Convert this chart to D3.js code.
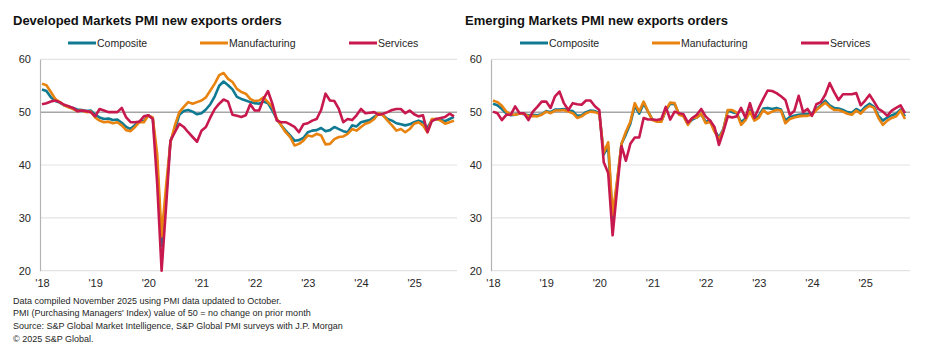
<!DOCTYPE html>
<html>
<head>
<meta charset="utf-8">
<script src="https://cdn.jsdelivr.net/npm/d3@7"></script>
<style>
  body { margin: 0; background: #fff; }
  svg { display: block; font-family: Arial, "Liberation Sans", sans-serif; }
</style>
</head>
<body>
<svg id="chart" width="928" height="354"></svg>
<script>
// monthly, Jan 2018 .. Oct 2025
let yearLabels = ["'18", "'19", "'20", "'21", "'22", "'23", "'24", "'25"];
let yTicks = [20, 30, 40, 50, 60];
let seriesNames = ["Composite", "Manufacturing", "Services"];

let dmComposite = [
  54.3, 54.0, 52.8, 52.1, 51.8, 51.3, 51.0, 50.8, 50.5, 50.4, 50.2, 50.3,
  49.5, 49.0, 48.7, 48.8, 48.5, 48.6, 48.0, 47.2, 46.8, 47.6, 48.2, 48.3,
  49.4, 48.8, 40.0, 24.7, 34.0, 44.5, 46.8, 49.5, 50.2, 50.4, 50.1, 49.6,
  49.8, 50.5, 51.5, 53.0, 55.0, 55.8, 55.1, 54.3, 52.9, 52.5, 52.2, 51.9,
  51.7, 51.6, 52.0, 51.7, 50.3, 48.7, 47.5, 46.5, 45.6, 44.6, 44.7, 45.1,
  46.2, 46.5, 46.6, 47.0, 46.4, 46.6, 47.2, 46.8, 46.4, 46.2, 47.5, 47.3,
  48.1, 48.3, 48.5, 49.1, 49.7, 49.4, 48.7, 48.4, 47.9, 47.7, 47.5, 47.7,
  48.1, 48.4, 48.1, 47.0, 48.5, 48.7, 48.5, 48.3, 48.7, 49.1
];
let dmManufacturing = [
  55.4, 55.1, 53.8, 52.5, 51.9, 51.3, 50.9, 50.6, 50.2, 50.3, 50.0, 50.1,
  49.0, 48.4, 48.1, 48.2, 47.9, 48.1, 47.5, 46.6, 46.4, 47.2, 48.1, 48.1,
  49.4, 49.0, 42.0, 26.5, 36.0, 44.3, 47.5, 50.0, 51.0, 51.9, 51.6, 51.9,
  52.2, 52.8, 54.1, 55.4, 57.0, 57.4, 56.3, 55.7, 54.4, 53.8, 53.5, 52.5,
  52.1, 52.2, 52.8, 51.9, 51.0, 48.7, 47.5, 46.2, 45.3, 43.7, 44.0, 44.6,
  45.6, 45.4, 45.9, 45.6, 43.9, 44.0, 44.9, 45.3, 45.4, 45.9, 46.8, 46.5,
  47.2, 47.8, 48.1, 48.7, 49.8, 49.4, 48.4, 47.5, 46.5, 46.8, 46.2, 46.8,
  47.8, 48.1, 47.5, 46.2, 48.7, 48.7, 48.4, 47.8, 48.1, 48.4
];
let dmServices = [
  51.5, 51.7, 52.0, 52.2, 51.9, 51.4, 51.1, 50.8, 50.2, 50.3, 50.2, 50.0,
  49.2, 50.6, 50.3, 50.0, 50.0, 50.0, 50.8, 49.0, 48.1, 48.1, 48.2, 49.2,
  49.4, 48.7, 36.5, 20.0, 32.0, 44.6, 46.2, 47.8, 47.2, 46.2, 45.3, 44.4,
  46.5, 47.2, 49.0, 50.6, 51.6, 52.4, 52.0, 49.5, 49.3, 49.1, 49.4, 51.5,
  50.3, 50.3, 52.5, 54.0, 51.6, 48.4, 48.1, 48.1, 47.7, 47.2, 46.2, 47.7,
  47.9, 48.4, 48.7, 50.4, 53.5, 52.2, 52.1, 50.6, 48.1, 48.7, 48.5, 49.4,
  50.6, 49.8, 49.9, 50.0, 49.5, 49.7, 50.0, 50.4, 50.6, 50.6, 49.8, 50.3,
  49.6, 49.2, 49.4, 46.2, 48.3, 48.7, 48.9, 49.1, 49.7, 49.2
];

let emComposite = [
  51.6, 51.3, 50.6, 49.8, 49.4, 49.5, 49.8, 49.6, 49.4, 49.5, 49.4, 49.6,
  50.2, 50.0, 50.5, 50.5, 50.6, 50.3, 50.2, 49.3, 49.4, 50.0, 50.3, 50.2,
  49.8, 42.0, 43.5, 29.5, 36.5, 44.0, 45.8, 47.8, 51.2, 49.7, 51.6, 50.1,
  48.6, 48.3, 48.3, 50.3, 51.6, 51.5, 49.6, 49.3, 47.8, 48.6, 49.0, 49.6,
  48.2, 48.4, 46.6, 45.2, 46.8, 50.3, 50.0, 49.8, 48.1, 48.8, 50.4, 48.7,
  49.3, 50.7, 50.8, 50.6, 50.8, 50.5, 48.4, 49.1, 49.3, 49.5, 49.6, 49.6,
  49.7, 50.6, 51.3, 52.2, 51.3, 50.8, 50.7, 50.4, 50.0, 49.9, 50.6, 50.1,
  51.0, 51.6, 51.0, 49.3, 48.4, 49.0, 49.4, 49.7, 50.5, 49.2
];
let emManufacturing = [
  52.2, 51.9, 51.2, 50.1, 49.6, 49.5, 49.7, 49.7, 49.2, 49.3, 49.2, 49.5,
  50.1, 49.8, 50.3, 50.3, 50.4, 50.1, 49.8, 48.9, 49.2, 49.8, 50.1, 50.0,
  49.7, 42.3, 44.3, 30.5, 37.0, 44.0, 46.3, 48.2, 51.7, 50.1, 52.0, 50.1,
  48.5, 48.2, 48.2, 50.4, 51.8, 51.7, 49.5, 49.2, 47.6, 48.9, 49.0, 49.7,
  47.9, 48.2, 46.3, 44.9, 46.6, 50.4, 50.4, 49.9, 47.6, 48.5, 50.1, 48.4,
  48.9, 50.4, 49.7, 50.1, 50.4, 50.3, 47.9, 48.7, 49.0, 49.2, 49.3, 49.3,
  49.5, 50.4, 51.1, 51.8, 51.0, 50.4, 50.4, 50.1, 49.7, 49.5, 50.3, 49.7,
  50.6, 51.2, 50.8, 48.9, 47.6, 48.4, 48.9, 49.2, 50.3, 48.7
];
let emServices = [
  50.1, 49.8, 48.5, 49.5, 49.5, 51.1, 49.8, 49.8, 48.5, 50.1, 51.0, 52.0,
  52.0, 50.8, 53.0, 53.9, 51.7, 50.4, 51.7, 51.5, 51.4, 52.2, 52.2, 51.1,
  50.4, 40.5, 38.5, 26.7, 35.3, 43.6, 40.8, 44.0, 45.2, 45.2, 48.9, 48.6,
  48.6, 48.5, 48.7, 51.0, 48.6, 50.1, 49.8, 49.6, 48.0, 48.9, 49.5, 50.6,
  49.2, 48.4, 47.2, 43.8, 46.3, 49.2, 49.0, 49.2, 50.8, 48.9, 51.7, 48.9,
  50.8, 52.5, 54.1, 54.0, 53.6, 53.0, 52.3, 49.5, 50.2, 53.1, 50.0, 50.6,
  49.3, 51.5, 51.9, 53.3, 55.5, 53.8, 52.3, 53.4, 53.4, 53.4, 53.6, 51.3,
  52.2, 53.3, 52.0, 50.6, 50.1, 49.3, 50.3, 50.8, 51.3, 49.8
];

let colors = ["#107a93", "#e8830f", "#c8194f"];
let textColor = "#262626";
let gridColor = "#e3e3e3";
let fontFamily = "Arial, 'Liberation Sans', sans-serif";

let footnotes = [
  "Data compiled November 2025 using PMI data updated to October.",
  "PMI (Purchasing Managers' Index) value of 50 = no change on prior month",
  "Source: S&P Global Market Intelligence, S&P Global PMI surveys with J.P. Morgan",
  "\u00a9 2025 S&P Global."
];

function drawPanel(svg, title, data, left, axisX, plotX0, plotX1, gridX1, legendX) {
    let g = svg.append("g");
    let top = 59.3, bottom = 270.7;

    let y = d3.scaleLinear().domain([20, 60]).range([bottom, top]);
    let x = d3.scaleLinear().domain([0, data[0].length - 1]).range([plotX0, plotX1]);

    // title
    g.append("text")
        .attr("x", left)
        .attr("y", 25)
        .text(title)
        .style("font-family", fontFamily)
        .style("font-weight", "bold")
        .style("font-size", "13px")
        .style("fill", "#111");

    // gridlines
    g.selectAll(".grid")
        .data(yTicks)
        .enter()
        .append("line")
        .attr("x1", axisX)
        .attr("x2", gridX1)
        .attr("y1", d => y(d))
        .attr("y2", d => y(d))
        .style("stroke", d => d == 50 ? "#a6a6a6" : gridColor)
        .style("stroke-width", d => d == 50 ? 1.5 : 1.2);

    // y axis
    let yAxis = g.append("g")
        .attr("transform", "translate(" + axisX + ",0)")
        .call(d3.axisLeft(y).tickValues(yTicks).tickSize(0).tickPadding(9))
        .style("font-family", fontFamily)
        .style("font-size", "11px");
    yAxis.select(".domain").style("stroke", "#b3b3b3").style("stroke-width", 1.2);
    yAxis.selectAll("text").style("fill", textColor);

    // x axis: year labels at January
    let xAxis = g.append("g")
        .attr("transform", "translate(0," + bottom + ")")
        .call(d3.axisBottom(x)
            .tickValues(yearLabels.map((d, i) => i * 12))
            .tickFormat((d, i) => yearLabels[i])
            .tickSize(0)
            .tickPadding(9))
        .style("font-family", fontFamily)
        .style("font-size", "11px");
    xAxis.select(".domain").remove();
    xAxis.selectAll("text").style("fill", textColor);

    // lines
    let line = d3.line()
        .x((d, i) => x(i))
        .y(d => y(d));
    data.forEach(function (s, k) {
        g.append("path")
            .datum(s)
            .attr("d", line)
            .style("fill", "none")
            .style("stroke", colors[k])
            .style("stroke-width", 2.6)
            .style("stroke-linejoin", "round");
    });

    // legend
    let spacing = [0, 132, 281];
    seriesNames.forEach(function (name, k) {
        let lx = legendX + spacing[k];
        g.append("line")
            .attr("x1", lx)
            .attr("x2", lx + 28)
            .attr("y1", 43)
            .attr("y2", 43)
            .style("stroke", colors[k])
            .style("stroke-width", 3);
        g.append("text")
            .attr("x", lx + 29)
            .attr("y", 43)
            .attr("dy", "0.35em")
            .text(name)
            .style("font-family", fontFamily)
            .style("font-size", "10.5px")
            .style("fill", textColor);
    });
}

let svg = d3.select("#chart");
svg.append("rect").attr("width", 928).attr("height", 354).style("fill", "#fff");

drawPanel(svg, "Developed Markets PMI new exports orders",
    [dmComposite, dmManufacturing, dmServices], 13, 40, 42, 454, 457, 68);
drawPanel(svg, "Emerging Markets PMI new exports orders",
    [emComposite, emManufacturing, emServices], 465, 491, 493, 905, 910, 520);

// footnotes
svg.selectAll(".note")
    .data(footnotes)
    .enter()
    .append("text")
    .attr("x", 13)
    .attr("y", (d, i) => 303.5 + i * 12.7)
    .text(d => d)
    .style("font-family", fontFamily)
    .style("font-size", "9px")
    .style("fill", textColor);
</script>
</body>
</html>
